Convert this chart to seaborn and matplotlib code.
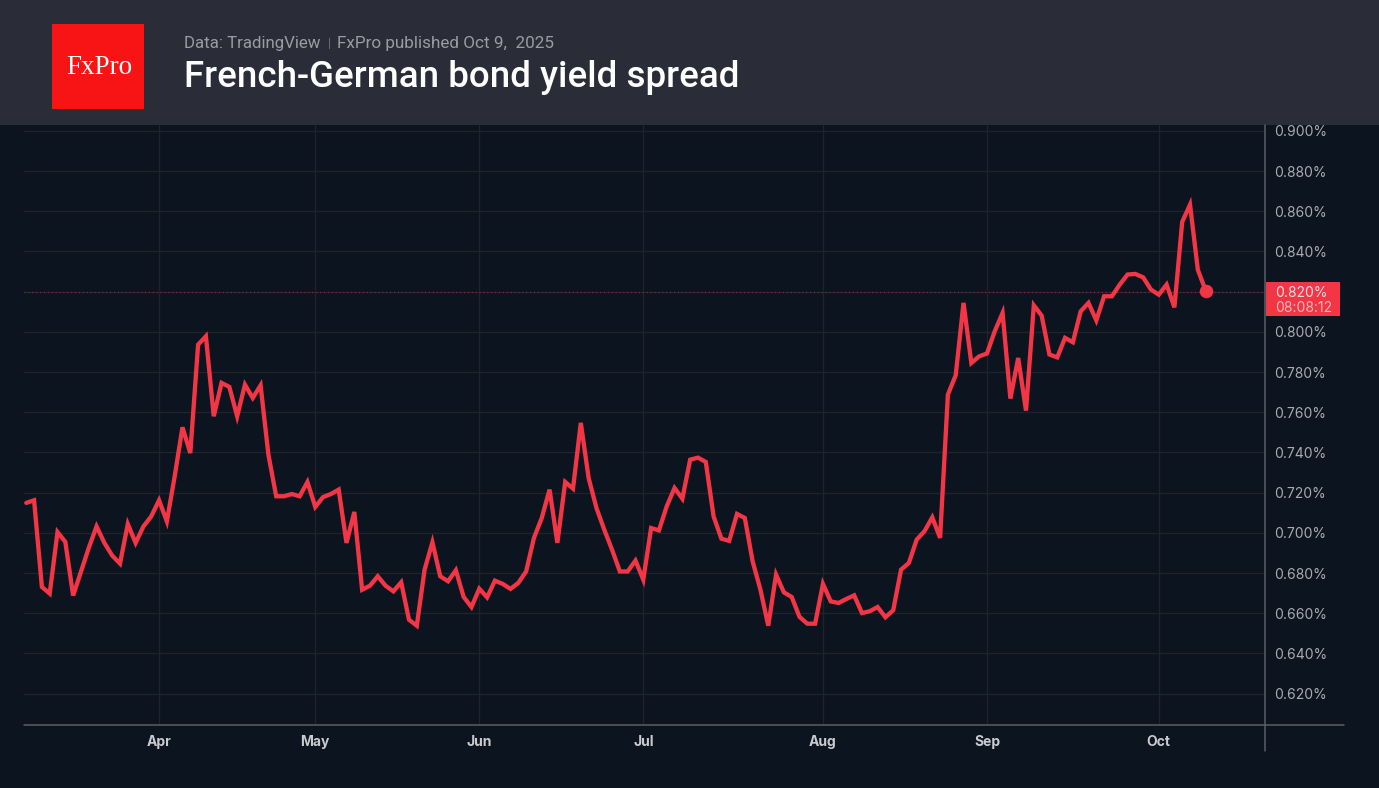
import matplotlib
matplotlib.use("Agg")
import matplotlib.pyplot as plt
from matplotlib.lines import Line2D
from matplotlib.patches import FancyBboxPatch, Rectangle
import numpy as np
import pandas as pd
import seaborn as sns

# --- Data ---
spread = [
    0.7149, 0.7162, 0.6731, 0.6698, 0.7004, 0.6955, 0.6688, 0.6807, 0.6925, 0.7032,
    0.6950, 0.6887, 0.6847, 0.7044, 0.6950, 0.7032, 0.7082, 0.7162, 0.7057, 0.7281,
    0.7525, 0.7397, 0.7936, 0.7978, 0.7580, 0.7746, 0.7726, 0.7580, 0.7737, 0.7671,
    0.7734, 0.7389, 0.7182, 0.7182, 0.7193, 0.7182, 0.7253, 0.7129, 0.7178, 0.7193,
    0.7215, 0.6950, 0.7104, 0.6717, 0.6737, 0.6784, 0.6737, 0.6709, 0.6754, 0.6568,
    0.6538, 0.6817, 0.6953, 0.6784, 0.6759, 0.6814, 0.6681, 0.6631, 0.6722, 0.6679,
    0.6762, 0.6746, 0.6721, 0.6751, 0.6808, 0.6975, 0.7074, 0.7215, 0.6950, 0.7253,
    0.7220, 0.7547, 0.7273, 0.7124, 0.7016, 0.6916, 0.6808, 0.6808, 0.6862, 0.6767,
    0.7024, 0.7012, 0.7132, 0.7223, 0.7170, 0.7364, 0.7374, 0.7353, 0.7082, 0.6971,
    0.6960, 0.7094, 0.7074, 0.6858, 0.6717, 0.6538, 0.6792, 0.6704, 0.6681, 0.6582,
    0.6548, 0.6548, 0.6746, 0.6659, 0.6651, 0.6671, 0.6689, 0.6601, 0.6610, 0.6631,
    0.6580, 0.6615, 0.6817, 0.6850, 0.6966, 0.7008, 0.7077, 0.6975, 0.7688, 0.7784,
    0.8144, 0.7845, 0.7878, 0.7892, 0.8003, 0.8094, 0.7668, 0.7870, 0.7608, 0.8132,
    0.8081, 0.7887, 0.7873, 0.7970, 0.7948, 0.8102, 0.8144, 0.8057, 0.8177, 0.8177,
    0.8235, 0.8285, 0.8288, 0.8271, 0.8210, 0.8185, 0.8235, 0.8122, 0.8547, 0.8633,
    0.8309, 0.8205,
]
month_labels = ["Apr", "May", "Jun", "Jul", "Aug", "Sep", "Oct"]
month_bars = [17, 37, 58, 79, 102, 123, 145]
y_ticks = [0.62, 0.64, 0.66, 0.68, 0.70, 0.72, 0.74, 0.76, 0.78, 0.80, 0.82, 0.84, 0.86, 0.88, 0.90]
last_price = 0.82

# --- Configuration ---
W, H = 1379, 788
BG = "#0c1420"
HEADER = "#2a2d38"
RED = "#f23645"
GRID = "#202327"
AXIS = "#5a5e66"
TICK = "#a9abb0"


def fx(px):
    return px / W


def fy(py):
    return 1 - py / H


sns.set_theme(style="dark")
plt.rcParams["font.family"] = ["Inter", "DejaVu Sans"]

fig = plt.figure(figsize=(W / 100, H / 100), dpi=100, facecolor=BG)
ax = fig.add_axes([fx(24), fy(725), fx(1265 - 24), fy(125) - fy(725)], facecolor=BG)

df = pd.DataFrame({"bar": np.arange(len(spread)), "spread": spread})
sns.lineplot(data=df, x="bar", y="spread", color=RED, linewidth=3.1, ax=ax, zorder=3,
             solid_joinstyle="miter", solid_capstyle="round")
sns.scatterplot(x=[df["bar"].iloc[-1]], y=[spread[-1]], color=RED, s=95, linewidth=0, ax=ax, zorder=4)

ax.axhline(last_price, color=RED, lw=0.8, ls=(0, (1, 2.5)), alpha=0.55, zorder=2)

ax.set_xlim(-0.29, 158.6)
ax.set_ylim(0.6044, 0.9029)
ax.set_xlabel("")
ax.set_ylabel("")

ax.set_xticks(month_bars, month_labels, fontsize=10, fontweight="bold", color="#c9cbce")
ax.set_yticks(y_ticks, ["" if t == last_price else f"{t:.3f}%" for t in y_ticks], fontsize=10, color=TICK)
ax.yaxis.tick_right()
ax.tick_params(axis="x", length=0, pad=7.3)
ax.tick_params(axis="y", length=0, pad=6.6)
ax.grid(True, color=GRID, lw=1.0)
ax.set_axisbelow(True)

for side in ["top", "left", "right", "bottom"]:
    ax.spines[side].set_visible(False)

# axis lines run past the plot area, as in the TradingView pane
fig.add_artist(Line2D([fx(24), fx(1344)], [fy(725), fy(725)], color=AXIS, lw=1.1))
fig.add_artist(Line2D([fx(1265), fx(1265)], [fy(125), fy(751)], color=AXIS, lw=1.1))

# price tag on the right scale
fig.add_artist(FancyBboxPatch((fx(1266), fy(316)), fx(74), fy(282) - fy(316), transform=fig.transFigure,
                              boxstyle="square,pad=0", facecolor=RED, edgecolor="none"))
fig.text(fx(1275), fy(293), "0.820%", color="#f6dfe1", fontsize=10, va="center", ha="left")
fig.text(fx(1275), fy(308), "08:08:12", color="#fbb9be", fontsize=10, va="center", ha="left")

# header
fig.add_artist(Rectangle((0, fy(125)), 1, 1 - fy(125), transform=fig.transFigure, facecolor=HEADER, edgecolor="none"))
fig.add_artist(Rectangle((fx(52), fy(108.5)), fx(91.5), fy(24) - fy(108.5), transform=fig.transFigure,
                         facecolor="#f81414", edgecolor="none"))
fig.text(fx(99), fy(67), "FxPro", color="white", fontsize=19.5, family="Liberation Serif", ha="center", va="center")
fig.text(fx(183.5), fy(43.5), "Data: TradingView", color="#9a9ca3", fontsize=12.2, family="Roboto", va="center")
fig.text(fx(329.5), fy(43.5), "|", color="#6f727a", fontsize=9, family="Roboto", va="center", ha="center")
fig.text(fx(337), fy(43.5), "FxPro published Oct 9,  2025", color="#9a9ca3", fontsize=12.3, family="Roboto", va="center")
fig.text(fx(183.5), fy(77.5), "French-German bond yield spread", color="white", fontsize=26.5,
         family="Roboto", fontweight="medium", va="center")

fig.savefig("out.png", dpi=100, facecolor=BG)
plt.close(fig)
